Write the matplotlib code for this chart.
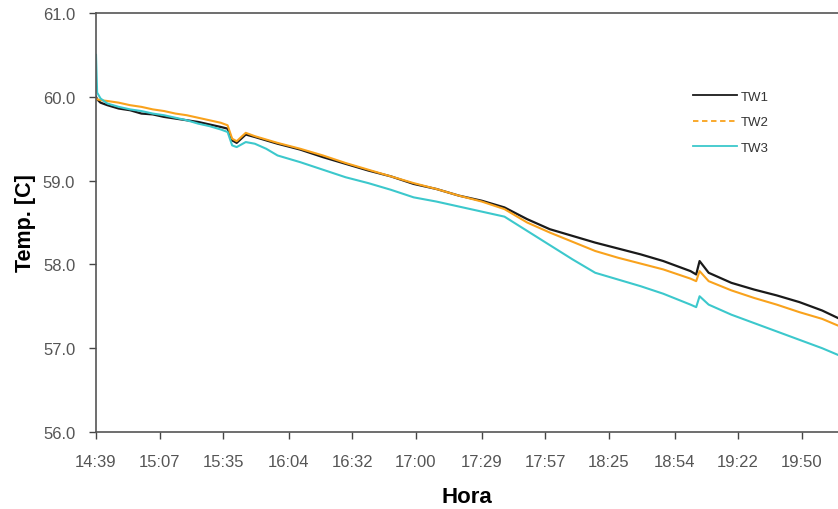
import matplotlib
matplotlib.use("Agg")
import matplotlib.pyplot as plt
from matplotlib.lines import Line2D

# minutes after 14:39
minutes = [0, 0.5, 2, 5, 10, 15, 20, 25, 30, 35, 40, 45, 50, 55, 58, 60, 62, 66,
           70, 75, 80, 90, 100, 110, 120, 130, 140, 150, 160, 170, 180, 190,
           200, 210, 220, 230, 240, 250, 262, 264.5, 266, 270, 280, 290, 300,
           310, 320, 327]

tw1 = [60.00, 59.97, 59.93, 59.90, 59.86, 59.84, 59.80, 59.79, 59.76, 59.74, 59.72,
       59.70, 59.67, 59.64, 59.62, 59.48, 59.45, 59.55,
       59.52, 59.48, 59.44, 59.37, 59.28, 59.20, 59.12, 59.05, 58.96, 58.90,
       58.82, 58.76, 58.68, 58.54, 58.42, 58.34, 58.26, 58.19, 58.12, 58.04,
       57.92, 57.88, 58.04, 57.90, 57.78, 57.70, 57.63, 57.55, 57.45, 57.36]

tw2 = [59.98, 59.97, 59.96, 59.95, 59.93, 59.90, 59.88, 59.85, 59.83, 59.80, 59.78,
       59.75, 59.72, 59.69, 59.66, 59.50, 59.47, 59.57,
       59.53, 59.49, 59.45, 59.38, 59.30, 59.21, 59.13, 59.05, 58.97, 58.90,
       58.82, 58.75, 58.66, 58.50, 58.38, 58.27, 58.16, 58.08, 58.01, 57.94,
       57.83, 57.80, 57.92, 57.80, 57.69, 57.60, 57.52, 57.43, 57.35, 57.27]

tw3 = [60.50, 60.05, 59.98, 59.92, 59.88, 59.85, 59.83, 59.80, 59.78, 59.75, 59.72,
       59.68, 59.65, 59.61, 59.58, 59.42, 59.40, 59.46,
       59.44, 59.38, 59.30, 59.22, 59.13, 59.04, 58.97, 58.89, 58.80, 58.75,
       58.69, 58.63, 58.57, 58.40, 58.23, 58.06, 57.90, 57.82, 57.74, 57.65,
       57.52, 57.49, 57.62, 57.52, 57.40, 57.30, 57.20, 57.10, 57.00, 56.92]

tick_labels = ["14:39", "15:07", "15:35", "16:04", "16:32", "17:00",
               "17:29", "17:57", "18:25", "18:54", "19:22", "19:50"]

plt.rcParams['font.family'] = ['Liberation Sans', 'DejaVu Sans']

fig = plt.figure(figsize=(8.38, 5.10), dpi=100)
ax = fig.add_axes([96 / 838, 1 - 433 / 510, 742 / 838, 419 / 510])

ax.plot(minutes, tw1, color='#1a1a1a', lw=1.6, label='TW1')
ax.plot(minutes, tw2, color='#f9a21c', lw=1.5, label='TW2')
ax.plot(minutes, tw3, color='#3cc8cc', lw=1.5, label='TW3')

# tick positions from the clock labels
start = 14 * 60 + 39
ticks = [int(t[:2]) * 60 + int(t[3:]) - start for t in tick_labels]
ax.set_xticks(ticks)
ax.set_xticklabels(tick_labels)
ax.set_xlim(0, 327)
ax.set_ylim(56, 61)
ax.set_yticks([56, 57, 58, 59, 60, 61])
ax.set_yticklabels(['%.1f' % v for v in [56, 57, 58, 59, 60, 61]])

ax.tick_params(axis='both', direction='out', length=5, width=1, color='#444444',
               labelsize=12, labelcolor='#555555')
ax.tick_params(axis='x', pad=11)
ax.tick_params(axis='y', pad=10)
for side in ['left', 'bottom', 'top']:
    ax.spines[side].set_color('#555555')
    ax.spines[side].set_linewidth(1.2)
ax.spines['right'].set_visible(False)

ax.set_xlabel('Hora', fontsize=16, fontweight='bold', labelpad=12)
ax.set_ylabel('Temp. [C]', fontsize=15.5, fontweight='bold', labelpad=5)

handles = [Line2D([], [], color='#1a1a1a', lw=1.3),
           Line2D([], [], color='#f9a21c', lw=1.3, ls=(0, (3, 2))),
           Line2D([], [], color='#3cc8cc', lw=1.3)]
leg = ax.legend(handles, ['TW1', 'TW2', 'TW3'], loc='upper left',
                bbox_to_anchor=(0.805, 0.815), frameon=False, fontsize=9.5,
                handlelength=3.3, handletextpad=0.3, labelspacing=1.0,
                borderpad=0, borderaxespad=0)
for t in leg.get_texts():
    t.set_color('#333333')

fig.savefig('out.png', dpi=100)
